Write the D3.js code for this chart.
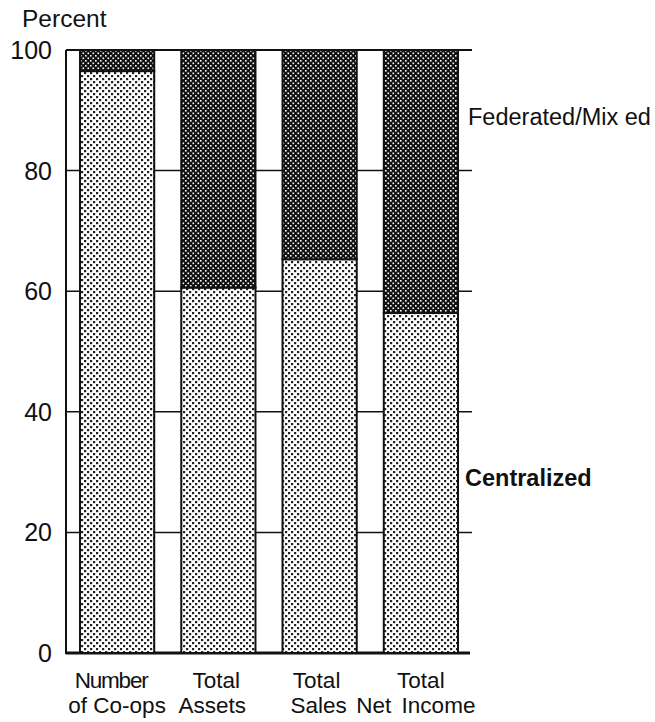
<!DOCTYPE html>
<html>
<head>
<meta charset="utf-8">
<script src="https://cdn.jsdelivr.net/npm/d3@7"></script>
<style>
  body { margin: 0; background: #fff; }
  text { font-family: "Liberation Sans", Arial, sans-serif; fill: #111; }
</style>
</head>
<body>
<script>
// daten
var kategorien = ["Number of Co-ops", "Total Assets", "Total Sales", "Total Net Income"];
var zentral = [96.5, 60.6, 65.3, 56.4];   // Centralized, Prozent
var foederiert = [3.5, 39.4, 34.7, 43.6];  // Federated/Mixed
var ticks = [0, 20, 40, 60, 80, 100];
var beschriftung = [["Number", "of Co-ops"], ["Total", "Assets"], ["Total", "Sales"], ["Total", "Net Income"]];

var breite = 655, hoehe = 722;
var links = 66, oben = 50, unten = 653;

var svg = d3.select("body").append("svg")
  .attr("width", breite)
  .attr("height", hoehe);

// muster: hell = schwarze punkte auf weiss, dunkel = weisse punkte auf schwarz
var defs = svg.append("defs");
var hell = defs.append("pattern").attr("id", "hell")
  .attr("patternUnits", "userSpaceOnUse").attr("width", 6).attr("height", 6);
hell.append("rect").attr("width", 6).attr("height", 6).attr("fill", "#fff");
hell.append("rect").attr("x", 0).attr("y", 0).attr("width", 2.2).attr("height", 2.2).attr("fill", "#222");
hell.append("rect").attr("x", 3).attr("y", 3).attr("width", 2.2).attr("height", 2.2).attr("fill", "#222");

var dunkel = defs.append("pattern").attr("id", "dunkel")
  .attr("patternUnits", "userSpaceOnUse").attr("width", 5).attr("height", 5);
dunkel.append("rect").attr("width", 5).attr("height", 5).attr("fill", "#111");
dunkel.append("rect").attr("x", 0).attr("y", 0).attr("width", 1.6).attr("height", 1.6).attr("fill", "#fff");
dunkel.append("rect").attr("x", 2.5).attr("y", 2.5).attr("width", 1.6).attr("height", 1.6).attr("fill", "#fff");

var y = d3.scaleLinear().domain([0, 100]).range([unten, oben]);
var x = d3.scaleBand().domain(kategorien).range([80, 458]).paddingInner(0.267).paddingOuter(0);

// gitterlinien
svg.selectAll("line.gitter")
  .data(ticks)
  .enter().append("line")
  .attr("x1", links)
  .attr("x2", function(d) { return d == 0 ? 470 : 472; })
  .attr("y1", function(d) { return y(d); })
  .attr("y2", function(d) { return y(d); })
  .attr("stroke", "#111")
  .attr("stroke-width", function(d) { return d == 0 ? 3 : (d == 100 ? 2 : 1.5); });

// y-achse
svg.append("line")
  .attr("x1", links).attr("x2", links)
  .attr("y1", y(100)).attr("y2", y(0) + 1)
  .attr("stroke", "#111").attr("stroke-width", 2);

svg.selectAll("text.tick")
  .data(ticks)
  .enter().append("text")
  .attr("x", 52)
  .attr("y", function(d) { return y(d); })
  .attr("dy", "0.36em")
  .attr("text-anchor", "end")
  .attr("font-size", 25)
  .text(function(d) { return d; });

svg.append("text").attr("x", 22).attr("y", 27).attr("font-size", 24.5).text("Percent");

// balken
var gruppen = svg.selectAll("g.balken")
  .data(kategorien)
  .enter().append("g");

gruppen.append("rect")
  .attr("x", function(d) { return x(d); })
  .attr("width", x.bandwidth())
  .attr("y", function(d, i) { return y(zentral[i]); })
  .attr("height", function(d, i) { return y(0) - y(zentral[i]); })
  .attr("fill", "url(#hell)")
  .attr("stroke", "#111").attr("stroke-width", 2);

gruppen.append("rect")
  .attr("x", function(d) { return x(d); })
  .attr("width", x.bandwidth())
  .attr("y", function(d, i) { return y(zentral[i] + foederiert[i]); })
  .attr("height", function(d, i) { return y(zentral[i]) - y(zentral[i] + foederiert[i]); })
  .attr("fill", "url(#dunkel)")
  .attr("stroke", "#111").attr("stroke-width", 2);

// kategorie beschriftung
var versatz = [[-6, 0], [-2, -6], [-3, -1], [0, -5]];
gruppen.each(function(d, i) {
  var g = d3.select(this);
  beschriftung[i].forEach(function(zeile, j) {
    g.append("text")
      .attr("x", x(d) + x.bandwidth() / 2 + versatz[i][j])
      .attr("y", 688 + j * 25)
      .attr("text-anchor", "middle")
      .attr("font-size", 22.5)
      .attr("letter-spacing", i == 0 && j == 0 ? -1.2 : 0)
      .attr("word-spacing", i == 3 ? 4 : 0)
      .text(zeile);
  });
});

// legende
svg.append("text").attr("x", 468).attr("y", 125).attr("font-size", 23.5).text("Federated/Mix ed");
svg.append("text").attr("x", 465).attr("y", 486).attr("font-size", 23.5).attr("font-weight", "bold").text("Centralized");
</script>
</body>
</html>
